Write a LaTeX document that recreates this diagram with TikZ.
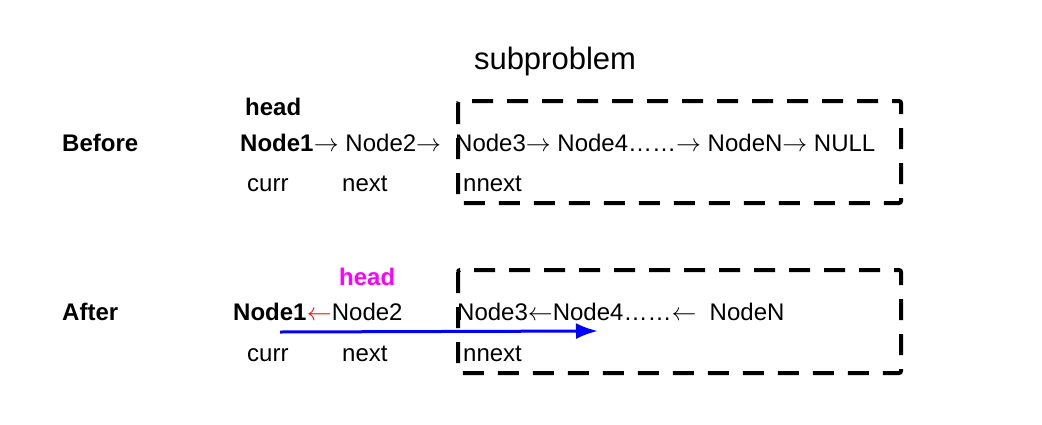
\documentclass[tikz,border=0pt]{standalone}
\usepackage{fontspec}
\usetikzlibrary{arrows.meta}
\setmainfont{Liberation Sans}
\definecolor{headmag}{RGB}{255,0,255}
\definecolor{arrblue}{RGB}{0,0,255}
\begin{document}
\begin{tikzpicture}[x=1pt,y=-1pt,
  txt/.style={anchor=base west,inner sep=0pt,font=\fontsize{24}{28}\selectfont},
  bold/.style={txt,font=\fontsize{24}{28}\selectfont\bfseries},
  subbox/.style={draw=black,line width=4pt,dash pattern=on 21pt off 14pt,rounded corners=2pt},
  bluearrow/.style={draw=arrblue,line width=3pt,-{Latex[length=22pt,width=16pt]}}
]
\useasboundingbox (0,0) rectangle (1042,424);
% title
\node[txt,anchor=base,font=\fontsize{31}{34}\selectfont] (title) at (555,69) {subproblem};
% boxes
\draw[subbox] (458,101) rectangle (901,203);
\draw[subbox] (458,270) rectangle (901,373);
% Before
\node[bold] (before) at (62,151) {Before};
\node[bold] (head1) at (245,115) {head};
\node[bold] (b1) at (240,151) {Node1};
\node[txt] (b2) at (b1.base east) {$\rightarrow$ Node2$\rightarrow$};
\node[txt] (b3) at (455,151) {Node3$\rightarrow$ Node4\dots\dots$\rightarrow$ NodeN$\rightarrow$ NULL};
\node[txt] (bcurr) at (247,191) {curr};
\node[txt] (bnext) at (342,191) {next};
\node[txt] (bnnext) at (463,191) {nnext};
% After
\node[bold] (after) at (62,320) {After};
\node[bold,text=headmag] (head2) at (339,285) {head};
\node[bold] (a1) at (233,320) {Node1};
\node[txt] (aarr) at (a1.base east) {\textcolor{red}{$\leftarrow$}Node2};
\node[txt] (a3) at (457,320) {Node3$\leftarrow$Node4\dots\dots$\leftarrow$\ \ NodeN};
\node[txt] (acurr) at (247,361) {curr};
\node[txt] (anext) at (342,361) {next};
\node[txt] (annext) at (463,361) {nnext};
% blue arrow
\coordinate (bs) at (280,332);
\coordinate (be) at (598,331);
\draw[bluearrow] (bs) -- (be);
\end{tikzpicture}
\end{document}
